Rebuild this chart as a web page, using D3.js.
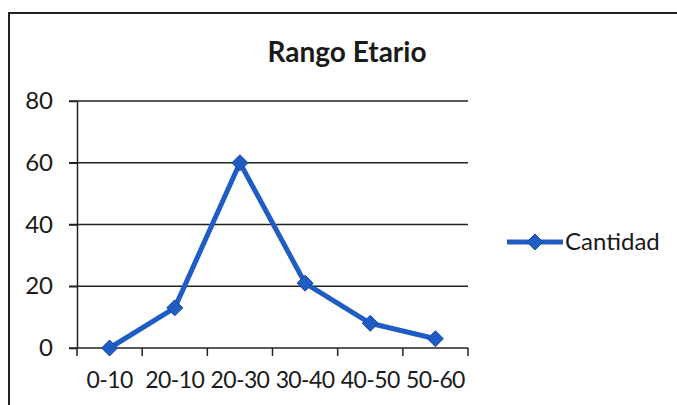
<!DOCTYPE html>
<html>
<head>
<meta charset="utf-8">
<script src="https://cdn.jsdelivr.net/npm/d3@7/dist/d3.min.js"></script>
<style>
  html, body { margin: 0; padding: 0; background: #fff; }
  svg { display: block; }
  text { font-family: Lato, "Open Sans", sans-serif; fill: #1a1a1a; }
</style>
</head>
<body>
<svg id="chart" width="677" height="405"></svg>
<script>
const categories = ["0-10", "20-10", "20-30", "30-40", "40-50", "50-60"];
const cantidad = [0, 13, 60, 21, 8, 3];
const yTicks = [0, 20, 40, 60, 80];
const title = "Rango Etario";
const seriesName = "Cantidad";

const svg = d3.select("#chart");
const W = 677, H = 405;
const plot = { left: 77, right: 468, top: 101, bottom: 348 };
const lineColor = "#1f5cc4";
const markerEdge = "#174a9e";
const labelFont = 23;

// outer frame of the chart area
svg.append("rect")
  .attr("x", 9).attr("y", 13)
  .attr("width", W + 20).attr("height", H + 20)
  .attr("fill", "#fff").attr("stroke", "#222").attr("stroke-width", 2);

svg.append("text")
  .attr("x", 347).attr("y", 62)
  .attr("text-anchor", "middle")
  .attr("font-size", 28).attr("font-weight", "bold")
  .text(title);

const x = d3.scaleBand().domain(categories).range([plot.left, plot.right]).padding(0);
const y = d3.scaleLinear().domain([0, 80]).range([plot.bottom, plot.top]);

// horizontal gridlines
svg.append("g").selectAll("line")
  .data(yTicks.filter(d => d > 0))
  .join("line")
  .attr("x1", plot.left - 8).attr("x2", plot.right)
  .attr("y1", d => y(d)).attr("y2", d => y(d))
  .attr("stroke", "#222").attr("stroke-width", 1.5);

// y axis
const yAxis = svg.append("g")
  .attr("transform", `translate(${plot.left},0)`)
  .call(d3.axisLeft(y).tickValues(yTicks).tickSize(8).tickPadding(16).tickSizeOuter(0));
yAxis.select(".domain").attr("stroke", "#222").attr("stroke-width", 1.5);
yAxis.selectAll(".tick line").attr("stroke", "#222").attr("stroke-width", 1.5);
yAxis.selectAll(".tick text")
  .attr("font-size", 24)
  .attr("font-family", "Lato, 'Open Sans', sans-serif")
  .attr("fill", "#1a1a1a");

// x axis with ticks on category boundaries
const xAxisG = svg.append("g").attr("transform", `translate(0,${plot.bottom})`);
xAxisG.append("line")
  .attr("x1", plot.left - 8).attr("x2", plot.right)
  .attr("stroke", "#222").attr("stroke-width", 1.5);
const bounds = categories.map(c => x(c)).concat([x(categories[categories.length - 1]) + x.bandwidth()]);
xAxisG.selectAll("line.tk").data(bounds).join("line")
  .attr("class", "tk")
  .attr("x1", d => d).attr("x2", d => d)
  .attr("y1", 0).attr("y2", 8)
  .attr("stroke", "#222").attr("stroke-width", 1.5);
xAxisG.selectAll("text").data(categories).join("text")
  .attr("x", d => x(d) + x.bandwidth() / 2)
  .attr("y", 40)
  .attr("text-anchor", "middle")
  .attr("font-size", labelFont)
  .attr("letter-spacing", -0.6)
  .text(d => d);

// series line
const pts = categories.map((c, i) => [x(c) + x.bandwidth() / 2, y(cantidad[i])]);
svg.append("path")
  .attr("d", d3.line()(pts))
  .attr("fill", "none")
  .attr("stroke", lineColor).attr("stroke-width", 5)
  .attr("stroke-linejoin", "round");

// square diamond marker
const r = 8;
const diamond = `M0,${-r}L${r},0L0,${r}L${-r},0Z`;
svg.append("g").selectAll("path")
  .data(pts)
  .join("path")
  .attr("transform", d => `translate(${d[0]},${d[1]})`)
  .attr("d", diamond)
  .attr("fill", lineColor).attr("stroke", markerEdge).attr("stroke-width", 1);

// legend
const lg = svg.append("g").attr("transform", "translate(507,242)");
lg.append("line").attr("x1", 0).attr("x2", 56)
  .attr("stroke", lineColor).attr("stroke-width", 5);
lg.append("path").attr("transform", "translate(28,0)").attr("d", diamond)
  .attr("fill", lineColor).attr("stroke", markerEdge).attr("stroke-width", 1);
lg.append("text").attr("x", 58).attr("y", 8).attr("font-size", 24).text(seriesName);
</script>
</body>
</html>
